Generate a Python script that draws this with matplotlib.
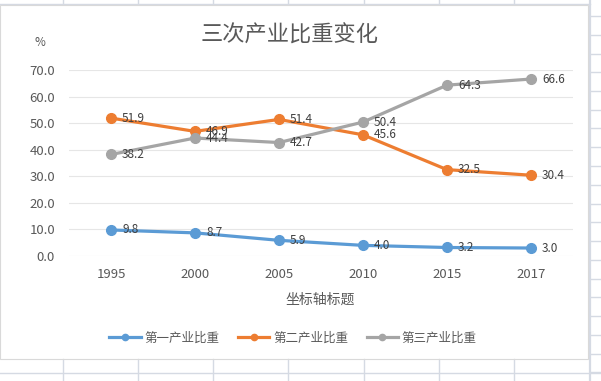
import matplotlib

matplotlib.use("Agg")

import matplotlib.pyplot as plt
from matplotlib.lines import Line2D
from matplotlib.patches import Rectangle

plt.rcParams["font.family"] = ["Noto Sans CJK SC", "DejaVu Sans"]

W, H = 601, 381

years = ["1995", "2000", "2005", "2010", "2015", "2017"]
primary = [9.8, 8.7, 5.9, 4.0, 3.2, 3.0]
secondary = [51.9, 46.9, 51.4, 45.6, 32.5, 30.4]
tertiary = [38.2, 44.4, 42.7, 50.4, 64.3, 66.6]
series_names = ["第一产业比重", "第二产业比重", "第三产业比重"]
colors = ["#5B9BD5", "#ED7D31", "#A5A5A5"]
y_ticks = [0, 10, 20, 30, 40, 50, 60, 70]


def fx(x):
    return x / W


def fy(y):
    return 1 - y / H


def sheet_line(fig, x0, y0, x1, y1, color="#d5dae3", lw=1.0):
    fig.add_artist(Line2D([fx(x0), fx(x1)], [fy(y0), fy(y1)],
                          transform=fig.transFigure, color=color, lw=lw, zorder=0))


fig = plt.figure(figsize=(W / 100, H / 100), dpi=100)
fig.patch.set_facecolor("white")

# spreadsheet grid behind the chart object
for x in [63, 138, 213, 288, 364, 439, 514]:
    sheet_line(fig, x, 0, x, 4)
    sheet_line(fig, x, 359, x, H)
sheet_line(fig, 0, 4, 590, 4)
sheet_line(fig, 0, 373, W, 373)
sheet_line(fig, 590, 0, 590, H, lw=1.6)
y = 16.0
while y < H:
    sheet_line(fig, 590, y, W, y)
    y += 18.75

# chart object border
fig.add_artist(Rectangle((fx(0), fy(359)), fx(588), fy(5) - fy(359),
                         transform=fig.transFigure, facecolor="none",
                         edgecolor="#d9d9d9", lw=0.8, zorder=1))

ax = fig.add_axes([fx(69), fy(256), fx(573) - fx(69), fy(70) - fy(256)])
ax.set_facecolor("none")

x = list(range(len(years)))
handles = []
for values, name, color in zip([primary, secondary, tertiary], series_names, colors):
    ax.plot(x, values, color=color, lw=2.3, marker="o", markersize=7,
            solid_capstyle="round", zorder=3)
    for xi, v in zip(x, values):
        ax.annotate(f"{v:.1f}", (xi, v), xytext=(8, 0), textcoords="offset points",
                    ha="left", va="center", fontsize=8.5, color="#404040", zorder=4)
    handles.append(Line2D([], [], color=color, lw=2.3, marker="o", markersize=4.5, label=name))

ax.set_xlim(-0.5, len(years) - 0.5)
ax.set_ylim(0, 70)
ax.set_yticks(y_ticks)
ax.set_yticklabels([f"{t:.1f}" for t in y_ticks])
ax.set_xticks(x)
ax.set_xticklabels(years)
ax.grid(axis="y", color="#e6e6e6", lw=0.8)
ax.set_axisbelow(True)
for side in ["top", "right", "left", "bottom"]:
    ax.spines[side].set_visible(False)
ax.tick_params(axis="both", length=0, labelsize=9.5, colors="#595959")
ax.tick_params(axis="y", pad=10)
ax.tick_params(axis="x", pad=9)

fig.text(fx(290), fy(35), "三次产业比重变化", ha="center", va="center",
         fontsize=16, color="#595959")
fig.text(fx(40), fy(43), "%", ha="center", va="center", fontsize=8.5, color="#595959")
fig.text(fx(320), fy(300), "坐标轴标题", ha="center", va="center",
         fontsize=10, color="#595959")

fig.legend(handles=handles, loc="center", bbox_to_anchor=(fx(293), fy(338)), ncol=3,
           frameon=False, fontsize=9, labelcolor="#595959", handlelength=2.5,
           handletextpad=0.3, columnspacing=1.5)

fig.savefig("out.png", dpi=100)
